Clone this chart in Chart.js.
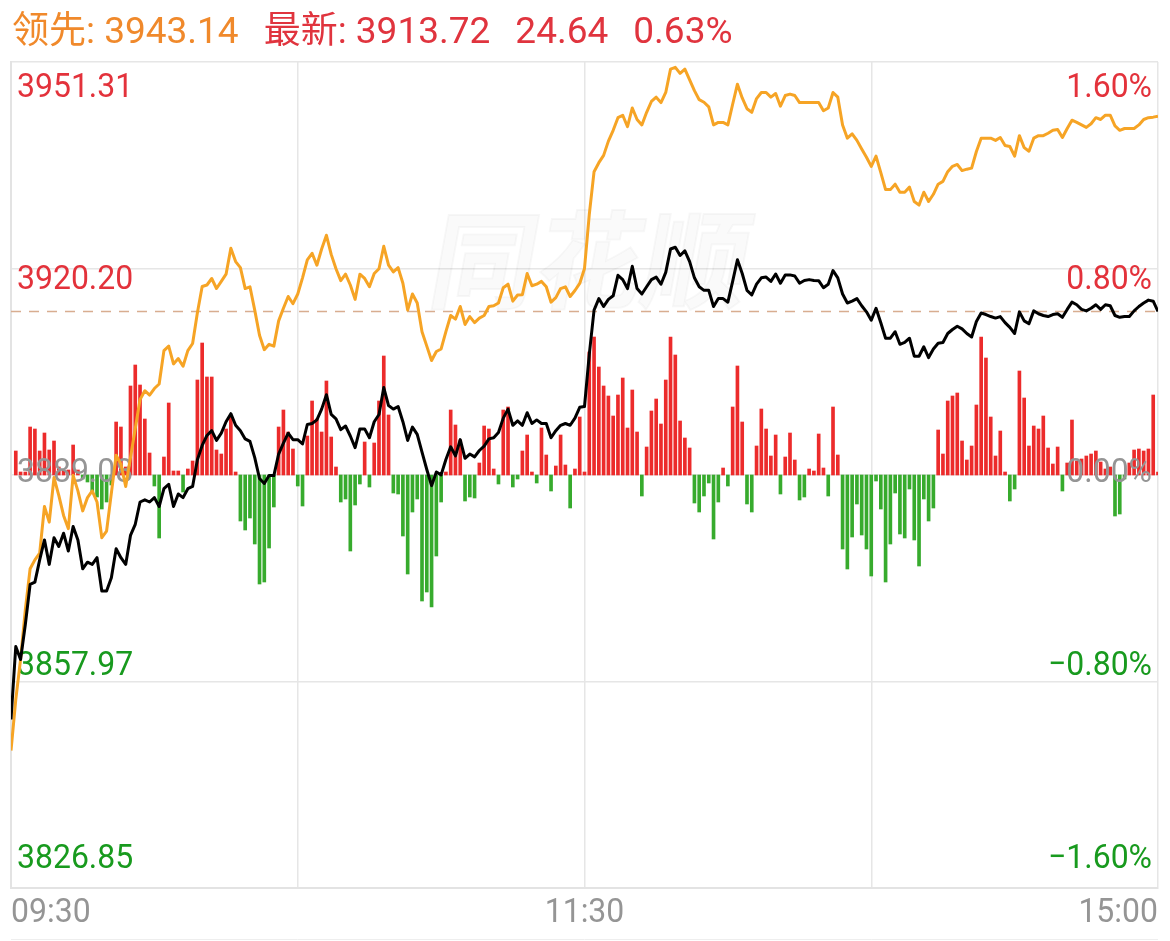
<!DOCTYPE html>
<html>
<head>
<meta charset="utf-8">
<script src="https://cdn.jsdelivr.net/npm/chart.js@4.4.1/dist/chart.umd.min.js"></script>
<style>
    html, body { margin: 0; padding: 0; background: #fff; }
    #wrap { position: relative; width: 1170px; height: 941px; overflow: hidden; }
    #chart { position: absolute; left: 0; top: 0; }
    #head {
        position: absolute; left: 12px; top: 9px; white-space: nowrap;
        font: 37px Roboto, "Noto Sans CJK SC", sans-serif; line-height: 44px;
    }
    #head span { margin-right: 25px; }
    .lead { color: #f0892b; }
    .last { color: #e0343e; }
</style>
</head>
<body>
<div id="wrap">
    <canvas id="chart" width="1170" height="941"></canvas>
    <div id="head"></div>
</div>
<script>
// minute 0 = 09:30, 120 = 11:30/13:00, 240 = 15:00
var preClose = 3889.08;
var yTicks = [3951.31, 3920.20, 3889.08, 3857.97, 3826.85];
var xGrid = [0, 60, 120, 180, 240];
var xTickLabels = ['09:30', '11:30', '15:00'];
var xTickAt = [0, 120, 240];

// 领先 (orange), one value per minute
var leadVals = [
    3847.57, 3855.25, 3861.28, 3868.81, 3874.95, 3876.29, 3877.30, 3884.33, 3881.98, 3888.70,
    3886.02, 3882.99, 3880.99, 3889.03, 3886.68, 3883.67, 3885.67, 3886.68, 3885.01, 3879.63,
    3880.64, 3886.35, 3892.06, 3890.71, 3887.36, 3891.72, 3896.09, 3900.44, 3901.78, 3901.12,
    3902.11, 3902.79, 3907.82, 3908.50, 3905.82, 3906.62, 3905.47, 3907.82, 3908.89, 3913.54,
    3917.48, 3917.71, 3918.69, 3917.18, 3918.25, 3919.34, 3923.24, 3921.24, 3920.32, 3917.17,
    3917.44, 3913.93, 3910.13, 3907.96, 3908.77, 3908.50, 3912.30, 3914.20, 3915.98, 3914.89,
    3916.35, 3918.79, 3921.51, 3922.49, 3920.69, 3923.13, 3925.20, 3922.32, 3920.15, 3918.36,
    3919.34, 3917.71, 3915.54, 3919.34, 3918.69, 3917.44, 3919.44, 3920.15, 3923.54, 3920.69,
    3919.67, 3920.32, 3917.98, 3913.93, 3916.35, 3915.00, 3910.67, 3908.50, 3906.33, 3907.69,
    3908.07, 3910.67, 3913.11, 3912.57, 3914.47, 3911.76, 3912.95, 3912.03, 3912.72, 3913.11,
    3914.47, 3914.58, 3915.00, 3917.29, 3917.83, 3915.27, 3916.20, 3916.25, 3919.44, 3917.60,
    3917.83, 3918.25, 3917.44, 3915.12, 3915.81, 3917.17, 3917.44, 3915.98, 3916.88, 3917.94,
    3920.20, 3928.33, 3934.78, 3936.14, 3937.24, 3939.39, 3941.02, 3942.92, 3943.29, 3941.56,
    3944.38, 3942.65, 3941.83, 3943.73, 3945.36, 3946.01, 3945.19, 3946.72, 3950.24, 3950.51,
    3949.59, 3950.24, 3948.61, 3946.99, 3945.63, 3945.25, 3944.55, 3941.83, 3942.21, 3942.21,
    3941.83, 3944.94, 3947.97, 3945.90, 3944.27, 3943.73, 3945.80, 3946.72, 3946.72, 3946.01,
    3946.56, 3944.65, 3946.26, 3946.47, 3946.26, 3945.19, 3945.19, 3945.19, 3945.19, 3945.19,
    3943.96, 3944.38, 3946.72, 3946.01, 3941.83, 3939.83, 3940.48, 3939.50, 3938.20, 3936.95,
    3935.59, 3937.12, 3934.63, 3932.08, 3932.08, 3932.90, 3931.69, 3931.69, 3932.46, 3930.29,
    3929.75, 3931.69, 3930.29, 3931.38, 3932.90, 3933.32, 3934.78, 3935.59, 3935.87, 3934.95,
    3935.16, 3935.32, 3937.83, 3939.83, 3939.83, 3939.83, 3939.50, 3939.93, 3938.74, 3938.58,
    3937.12, 3940.21, 3938.41, 3937.87, 3939.83, 3940.21, 3940.21, 3940.58, 3941.02, 3941.13,
    3939.93, 3941.29, 3942.54, 3942.21, 3941.83, 3941.46, 3942.00, 3942.92, 3942.65, 3943.29,
    3943.29, 3941.67, 3941.02, 3941.29, 3941.29, 3941.29, 3941.83, 3942.65, 3942.92, 3943.00,
    3943.14
];

// 最新 (black), one value per minute
var priceVals = [
    3852.24, 3863.24, 3861.28, 3866.55, 3872.60, 3872.93, 3876.29, 3879.30, 3875.61, 3879.63,
    3878.31, 3880.31, 3877.63, 3881.32, 3879.30, 3874.95, 3875.94, 3875.61, 3876.62, 3871.59,
    3871.59, 3873.61, 3877.96, 3876.62, 3875.61, 3879.98, 3881.65, 3885.01, 3885.34, 3885.01,
    3885.67, 3884.33, 3887.02, 3887.69, 3884.33, 3886.22, 3885.67, 3887.02, 3887.35, 3891.37,
    3893.53, 3895.03, 3895.76, 3894.29, 3895.38, 3897.11, 3898.32, 3896.57, 3895.76, 3894.52,
    3894.14, 3891.70, 3888.55, 3887.80, 3888.99, 3888.99, 3892.24, 3893.87, 3895.38, 3894.41,
    3894.41, 3893.75, 3896.69, 3896.84, 3897.38, 3899.01, 3901.18, 3898.20, 3897.55, 3895.92,
    3896.46, 3894.96, 3893.21, 3896.03, 3896.03, 3894.69, 3897.11, 3898.20, 3902.26, 3899.55,
    3899.01, 3899.40, 3897.11, 3894.29, 3896.30, 3895.21, 3892.52, 3889.91, 3887.47, 3889.53,
    3889.10, 3891.42, 3893.33, 3891.97, 3894.41, 3891.60, 3892.24, 3891.81, 3892.77, 3893.43,
    3894.52, 3894.69, 3895.48, 3897.65, 3899.01, 3896.57, 3897.23, 3896.57, 3898.47, 3896.84,
    3897.38, 3896.84, 3896.84, 3894.69, 3895.76, 3896.57, 3896.84, 3896.57, 3897.65, 3899.28,
    3899.40, 3907.24, 3913.93, 3915.66, 3914.47, 3915.54, 3916.08, 3919.17, 3918.52, 3917.17,
    3920.53, 3917.17, 3916.35, 3917.44, 3918.52, 3918.90, 3917.83, 3919.61, 3923.13, 3923.40,
    3922.15, 3922.86, 3921.24, 3918.79, 3917.44, 3916.90, 3916.90, 3914.47, 3915.66, 3915.66,
    3915.12, 3918.25, 3921.51, 3919.44, 3916.90, 3916.20, 3917.83, 3918.79, 3918.90, 3918.25,
    3919.37, 3917.98, 3919.23, 3919.23, 3919.07, 3917.98, 3918.38, 3918.52, 3918.38, 3918.36,
    3917.29, 3917.83, 3919.88, 3918.79, 3916.35, 3915.00, 3915.27, 3915.66, 3914.58, 3913.66,
    3912.41, 3914.20, 3912.03, 3909.69, 3909.69, 3910.67, 3908.77, 3909.05, 3909.69, 3906.98,
    3906.98, 3908.40, 3906.77, 3908.07, 3908.94, 3909.05, 3910.40, 3911.00, 3911.49, 3911.09,
    3910.40, 3909.87, 3912.21, 3913.49, 3913.26, 3912.96, 3912.72, 3912.95, 3912.03, 3911.32,
    3910.40, 3913.66, 3912.30, 3911.86, 3913.81, 3913.38, 3913.11, 3912.95, 3913.26, 3913.38,
    3912.84, 3914.03, 3915.12, 3914.73, 3914.03, 3913.81, 3914.20, 3914.73, 3914.03, 3914.73,
    3914.58, 3913.11, 3912.84, 3912.95, 3912.95, 3913.81, 3914.47, 3915.00, 3915.43, 3915.27,
    3913.72
];

// red/green strength bars, minutes 1..240
var flowVals = [
    24, 3, 3, 48, 46, 24, 42, 25, 34, 8, 5, 5, 30, 5, -4, -7, -17, -22, -34, -27,
    -10, 53, 48, 8, 89, 110, 90, 56, 22, -11, -63, 18, 72, 4, 4, -17, 6, 14, 95, 132,
    98, 98, 25, 21, 46, 59, 3, -46, -55, -43, -69, -109, -107, -73, -32, 48, 65, 43, 26, -11,
    -31, 39, 74, 56, 43, 94, 38, 8, -27, -24, -76, -30, -9, 33, -12, 32, 74, 119, 60, -18,
    -19, -61, -99, -37, -24, -126, -117, -132, -81, -27, 3, 65, 50, 35, -26, -22, -23, 12, 49, 46,
    6, -9, 65, 68, -12, -4, 24, 40, 3, -8, 47, 20, -16, 9, 40, 10, -33, 6, 58, 3,
    123, 138, 108, 89, 79, 59, 80, 97, 47, 85, 43, -21, 28, 64, 76, 51, 95, 138, 120, 54,
    37, 27, -28, -37, -21, -8, -64, -27, 7, -11, 68, 109, 53, -29, -37, 29, 66, 46, 19, 40,
    -19, 18, 42, 15, -25, -22, 6, 4, 41, 7, -21, 68, 20, -74, -94, -62, -29, -60, -74, -101,
    -6, -34, -107, -69, -18, -59, -63, -14, -65, -91, -24, -46, -33, 45, 21, 74, 79, 82, 34, 15,
    29, 70, 138, 117, 58, 19, 44, 3, -26, -14, 104, 77, 29, 49, 46, 59, 27, 11, 28, -16,
    12, 55, 14, 16, 19, 21, 24, 13, 6, 8, -41, -39, -4, 12, 25, 26, 24, 26, 80, 3
];

var RED = '#e3323b';
var GREEN = '#189a1e';
var GRAY = '#959595';

(function () {
    var lastLead = leadVals[leadVals.length - 1];
    var lastPrice = priceVals[priceVals.length - 1];
    var change = lastPrice - preClose;
    var head = document.getElementById('head');
    head.innerHTML =
        '<span class="lead">领先: ' + lastLead.toFixed(2) + '</span>' +
        '<span class="last">最新: ' + lastPrice.toFixed(2) + '</span>' +
        '<span class="last">' + change.toFixed(2) + '</span>' +
        '<span class="last">' + (change / preClose * 100).toFixed(2) + '%</span>';

    function pctLabel(v) {
        var p = ((v - preClose) / preClose * 100).toFixed(2);
        return p.replace('-', '\u2212') + '%';
    }

    function labelColor(i) {
        if (i < 2) return RED;
        if (i === 2) return GRAY;
        return GREEN;
    }

    function drawText(ctx, text, x, y, align, color) {
        ctx.save();
        ctx.translate(x, y);
        ctx.scale(0.94, 1);
        ctx.font = '34px Roboto, sans-serif';
        ctx.textAlign = align;
        ctx.textBaseline = 'alphabetic';
        ctx.fillStyle = color;
        ctx.fillText(text, 0, 0);
        ctx.restore();
    }

    var overlay = {
        id: 'overlay',
        beforeDatasetsDraw: function (chart) {
            var ctx = chart.ctx;
            var area = chart.chartArea;
            var ys = chart.scales.y;

            // watermark
            ctx.save();
            ctx.translate((area.left + area.right) / 2, 300);
            ctx.transform(1, 0, -0.18, 1, 0, 0);
            ctx.font = 'bold 106px "Noto Sans CJK SC", sans-serif';
            ctx.textAlign = 'center';
            ctx.fillStyle = 'rgba(0,0,0,0.02)';
            ctx.strokeStyle = 'rgba(0,0,0,0.03)';
            ctx.lineWidth = 2;
            ctx.fillText('同花顺', 0, 0);
            ctx.strokeText('同花顺', 0, 0);
            ctx.restore();

            // dashed line at the latest price
            var py = ys.getPixelForValue(lastPrice);
            ctx.save();
            ctx.strokeStyle = '#d8ad90';
            ctx.lineWidth = 1.5;
            ctx.setLineDash([10, 8]);
            ctx.beginPath();
            ctx.moveTo(area.left, py);
            ctx.lineTo(area.right, py);
            ctx.stroke();
            ctx.restore();
        },
        afterDatasetDraw: function (chart, args) {
            if (args.index !== 0) return;
            var ctx = chart.ctx;
            var area = chart.chartArea;
            var step = (area.height - 54.5) / (yTicks.length - 1);
            yTicks.forEach(function (v, i) {
                var by = area.top + 34.5 + i * step;
                drawText(ctx, v.toFixed(2), area.left + 6, by, 'left', labelColor(i));
                drawText(ctx, pctLabel(v), area.right - 6, by, 'right', labelColor(i));
            });
        },
        afterDraw: function (chart) {
            var ctx = chart.ctx;
            var area = chart.chartArea;
            var xs = chart.scales.x;
            xTickLabels.forEach(function (t, i) {
                var align = i === 0 ? 'left' : (i === xTickLabels.length - 1 ? 'right' : 'center');
                var px = xs.getPixelForValue(xTickAt[i]);
                drawText(ctx, t, px, area.bottom + 34, align, GRAY);
            });
            ctx.save();
            ctx.strokeStyle = '#eeeeee';
            ctx.lineWidth = 1;
            ctx.beginPath();
            ctx.moveTo(area.left, 939.5);
            ctx.lineTo(area.right, 939.5);
            ctx.stroke();
            ctx.restore();
        }
    };

    var ctx = document.getElementById('chart').getContext('2d');
    new Chart(ctx, {
        type: 'bar',
        data: {
            datasets: [
                {
                    type: 'bar',
                    yAxisID: 'yb',
                    data: flowVals.map(function (v, i) { return { x: i + 1, y: v }; }),
                    backgroundColor: flowVals.map(function (v) { return v >= 0 ? '#ec2b2b' : '#37ab2d'; }),
                    barThickness: 3,
                    order: 3
                },
                {
                    type: 'line',
                    yAxisID: 'y',
                    data: leadVals.map(function (v, i) { return { x: i, y: v }; }),
                    borderColor: '#f6a425',
                    borderWidth: 3,
                    borderJoinStyle: 'round',
                    pointRadius: 0,
                    tension: 0,
                    order: 2
                },
                {
                    type: 'line',
                    yAxisID: 'y',
                    data: priceVals.map(function (v, i) { return { x: i, y: v }; }),
                    borderColor: '#000000',
                    borderWidth: 3,
                    borderJoinStyle: 'round',
                    pointRadius: 0,
                    tension: 0,
                    order: 1
                }
            ]
        },
        options: {
            responsive: false,
            devicePixelRatio: 1,
            animation: false,
            events: [],
            layout: { padding: { left: 11, top: 62, right: 12, bottom: 53 } },
            plugins: {
                legend: { display: false },
                tooltip: { enabled: false }
            },
            scales: {
                x: {
                    type: 'linear',
                    min: 0,
                    max: 240,
                    offset: false,
                    afterBuildTicks: function (scale) {
                        scale.ticks = xGrid.map(function (v) { return { value: v }; });
                    },
                    ticks: { display: false },
                    grid: { color: '#e6e6e6', lineWidth: 1.5, drawTicks: false, offset: false },
                    border: { color: '#e3e3e3', width: 2 }
                },
                y: {
                    position: 'left',
                    min: yTicks[yTicks.length - 1],
                    max: yTicks[0],
                    afterBuildTicks: function (scale) {
                        scale.ticks = yTicks.map(function (v) { return { value: v }; });
                    },
                    ticks: { display: false },
                    grid: { color: '#e6e6e6', lineWidth: 1.5, drawTicks: false },
                    border: { color: '#e3e3e3', width: 2 }
                },
                yb: {
                    display: false,
                    min: -413,
                    max: 413
                }
            }
        },
        plugins: [overlay]
    });
})();
</script>
</body>
</html>
